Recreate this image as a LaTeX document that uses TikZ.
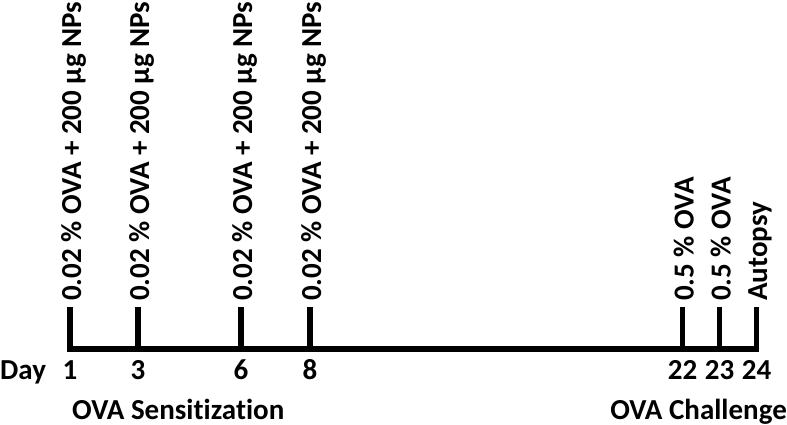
\documentclass[tikz,border=0pt]{standalone}
\usepackage{fontspec}
\setmainfont{Carlito}[Ligatures=NoCommon]
\begin{document}
\begin{tikzpicture}[x=1pt,y=-1pt,
  lbl/.style={font=\fontsize{29}{32}\selectfont\bfseries, inner sep=0pt},
  vlbl/.style={lbl, rotate=90, anchor=base west},
  tickline/.style={line width=5.5pt},
  axisline/.style={line width=5.5pt, line cap=rect}]
\useasboundingbox (0,0) rectangle (787,425);
% tick positions
\coordinate (b1) at (70,349);   \coordinate (t1) at (70,307);
\coordinate (b3) at (138,349);  \coordinate (t3) at (138,307);
\coordinate (b6) at (241,349);  \coordinate (t6) at (241,307);
\coordinate (b8) at (310,349);  \coordinate (t8) at (310,307);
\coordinate (b22) at (682.5,349); \coordinate (t22) at (682.5,307);
\coordinate (b23) at (719.5,349); \coordinate (t23) at (719.5,307);
\coordinate (b24) at (756.5,349); \coordinate (t24) at (756.5,307);
% axis
\draw[axisline] (b1) -- (b24);
\foreach \d in {1,3,6,8,22,23}{\draw[tickline] (b\d) -- (t\d);}
\draw[line width=4.5pt] (b24) -- (t24);
% vertical labels
\node[vlbl] (n1) at (81,301) {0.02 \% OVA + 200 µg NPs};
\node[vlbl] (n3) at (149,301) {0.02 \% OVA + 200 µg NPs};
\node[vlbl] (n6) at (252,301) {0.02 \% OVA + 200 µg NPs};
\node[vlbl] (n8) at (321,301) {0.02 \% OVA + 200 µg NPs};
\node[vlbl] (n22) at (693.5,301) {0.5 \% OVA};
\node[vlbl] (n23) at (730.5,301) {0.5 \% OVA};
\node[vlbl] (n24) at (767,301) {Autopsy};
% day labels
\node[lbl, anchor=base west] (day) at (0,379) {Day};
\node[lbl, anchor=base] (d1) at (70,379) {1};
\node[lbl, anchor=base] (d3) at (138,379) {3};
\node[lbl, anchor=base] (d6) at (241,379) {6};
\node[lbl, anchor=base] (d8) at (310,379) {8};
\node[lbl, anchor=base] (d22) at (682.5,379) {22};
\node[lbl, anchor=base] (d23) at (719.5,379) {23};
\node[lbl, anchor=base] (d24) at (756.5,379) {24};
% phase labels
\node[lbl, anchor=base west] (sens) at (72,419) {OVA Sensitization};
\node[lbl, anchor=base east] (chal) at (787,419) {OVA Challenge};
\end{tikzpicture}
\end{document}
